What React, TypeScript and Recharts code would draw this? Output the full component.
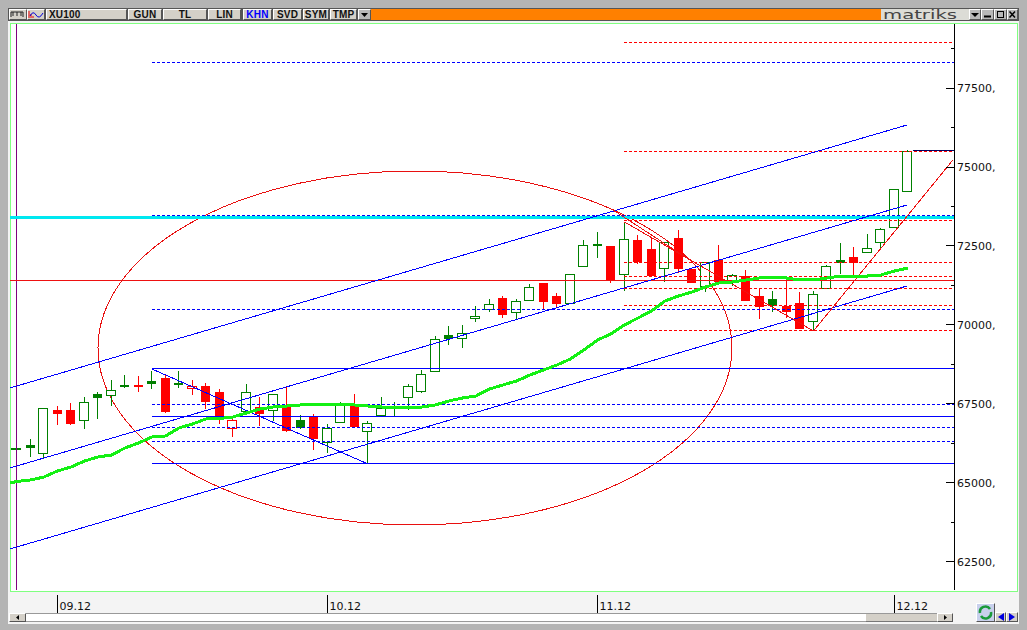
import React from 'react';
import { ComposedChart, Bar, Line, XAxis, YAxis, ReferenceLine, ReferenceArea } from 'recharts';

const opens = [66040,66202,65917,67310,67310,66961,67816,67753,68085,68101,68227,68322,68164,67974,68069,67880,66708,67246,67404,67278,67404,66993,67088,66265,66898,67499,66613,67120,67404,67689,67880,68512,69683,69557,70190,70475,70854,70379,70759,71329,70918,70664,71836,72565,72500,71582,72690,72405,71772,72753,71772,71202,72057,71329,71550,70918,70823,70601,70696,70095,71139,72057,72152,72278,72595,73070,74209];
const highs = [66135,66392,67373,67437,67531,67721,67880,68259,68417,68386,68544,68449,68544,68259,68164,67974,67088,68132,67721,67816,68038,67151,67183,66866,67563,67816,66961,67721,67563,68132,68575,69652,69968,70000,70601,70823,70918,70823,71297,71329,71012,71614,72690,72943,72500,73260,72848,72753,72627,73006,71772,71994,72532,71614,71740,71139,71076,71424,71044,71076,71899,72595,72468,72880,73070,74303,75538];
const lows = [66010,65822,65790,66835,66835,66708,67025,67436,68006,67880,67974,67215,68006,67785,67341,66866,66455,67215,66803,66961,66613,66708,66043,65948,66898,66771,65632,67120,67088,67310,67848,68512,69367,69272,70095,70411,70221,70158,70759,70506,70538,70664,71836,72120,71329,71076,71930,71550,71360,71646,71329,71044,71361,71234,70759,70190,70411,70221,69873,69810,71139,71614,71550,72278,72437,73070,74209];
const closes = [66105,66107,67373,67183,66866,67563,67689,67943,68053,68038,68132,67246,68101,68069,67563,67056,66993,67880,67183,67816,66645,66740,66392,66740,67499,66771,66898,67370,67375,68069,68449,69557,69560,69747,70285,70664,70316,70759,71202,70728,70664,71614,72532,72535,71392,72722,71994,71550,72627,71772,71329,71994,71361,71582,70759,70570,70601,70411,69873,70981,71867,71962,71955,72437,73038,74303,75507];
const movingAverage = [65047,65094,65189,65379,65505,65695,65822,65885,66107,66265,66455,66487,66740,66866,67025,67040,67088,67215,67341,67404,67436,67468,67468,67468,67468,67468,67436,67404,67373,67373,67404,67468,67595,67689,67753,67974,68101,68227,68417,68575,68734,68924,69208,69525,69715,70000,70221,70443,70759,70918,71044,71202,71329,71361,71424,71487,71519,71487,71424,71424,71487,71550,71550,71550,71582,71709,71804];
const movingAverageStart = 64999;

const dateTicks = [3, 23, 43, 65];
const dateLabels = ['09.12', '10.12', '11.12', '12.12'];
const priceTicks = [62500,63750,65000,66250,67500,68750,70000,71250,72500,73750,75000,76250,77500,78750];
const majorPrices = [62500,65000,67500,70000,72500,75000,77500];

const channelLines = [[-0.52,68006,65.93,76330],[-0.52,65474,65.93,73798],[-0.52,62910,65.93,71234]];
const blueZigzag = [10,68607,26,65600];
const redDiagonals = [[44.15,73640,49.85,72057],[45,73260,59,69810],[59,69810,69.33,75222]];
const blueSolidLevels = [68607,67088,65600];
const blueDashedLevels = [78308,73465,70475,67468,66756,66297];
const redDashedLevels = [78941,75475,73291,71962,71535,71139,70617,69810];
const cyanLevel = 73386;
const redLevel = 71392;
const closeLevel = 75507;
const ellipseBox = { x1: 6, x2: 52.96, top: 74873, bottom: 63670 };

const toolbarButtons = [
  { t: 'GUN', x: 128, w: 34 }, { t: 'TL', x: 163, w: 44 }, { t: 'LIN', x: 208, w: 33 },
  { t: 'KHN', x: 243, w: 29, c: '#0000ff' }, { t: 'SVD', x: 273, w: 29 }, { t: 'SYM', x: 303, w: 26 }, { t: 'TMP', x: 330, w: 27 },
];

const candles = opens.map((open, i) => ({ i, open, high: highs[i], low: lows[i], close: closes[i], prev: i ? closes[i - 1] : closes[i] }));
const maData = [{ i: -0.52, ma: movingAverageStart }, ...movingAverage.map((ma, i) => ({ i, ma }))];

const Candle = (p: any) => {
  const { x, y, width, height, payload: d } = p;
  const cx = Math.floor(x + width / 2);
  const k = height / (d.high - d.low);
  const yOf = (v: number) => y + (d.high - v) * k;
  const color = d.close >= d.prev ? '#008000' : '#ff0000';
  const filled = d.close < d.open;
  const top = Math.round(yOf(Math.max(d.open, d.close)));
  const bot = Math.round(yOf(Math.min(d.open, d.close)));
  return (
    <g shapeRendering="crispEdges">
      <line x1={cx + 0.5} x2={cx + 0.5} y1={y} y2={y + height} stroke={color} strokeWidth={1} />
      {filled
        ? <rect x={cx - 4} y={top} width={9} height={Math.max(bot - top, 2)} fill={color} />
        : <rect x={cx - 4.5} y={top + 0.5} width={9} height={Math.max(bot - top - 1, 1)} fill="#fff" stroke={color} strokeWidth={1} />}
    </g>
  );
};

const PriceTick = (p: any) => {
  const { y, payload } = p;
  const major = majorPrices.includes(payload.value);
  return (
    <g>
      <line x1={major ? 946 : 951} x2={954} y1={y} y2={y} stroke="#000" shapeRendering="crispEdges" />
      {major && <text x={957} y={y + 4} fontSize={11} fontFamily="DejaVu Sans" fill="#111">{payload.value + ','}</text>}
    </g>
  );
};

const DateTick = (p: any) => {
  const { x, payload } = p;
  return (
    <g>
      <line x1={x} x2={x} y1={595} y2={613} stroke="#000" shapeRendering="crispEdges" />
      <text x={x + 2} y={610} fontSize={11} fontFamily="DejaVu Sans" fill="#111">{dateLabels[dateTicks.indexOf(payload.value)]}</text>
    </g>
  );
};

const EllipseShape = (p: any) => (
  <ellipse cx={p.x + p.width / 2} cy={p.y + p.height / 2} rx={p.width / 2} ry={p.height / 2} fill="none" stroke="#e81010" strokeWidth={1} shapeRendering="crispEdges" />
);

const box = (x: number, y: number, w: number, h: number, extra: any = {}) => ({
  position: 'absolute' as const, left: x, top: y, width: w, height: h, boxSizing: 'border-box' as const, ...extra,
});
const bevel = { background: '#d4d0c8', borderTop: '1px solid #fff', borderLeft: '1px solid #fff', borderRight: '1px solid #555', borderBottom: '1px solid #555' };
const btnText = { fontFamily: 'Liberation Sans', fontWeight: 'bold' as const, fontSize: 10, letterSpacing: 0.2, lineHeight: '10px', textAlign: 'center' as const, color: '#111' };

const Seg = (s: number[], color: string) => (
  <ReferenceLine key={s.join('-')} segment={[{ x: s[0], y: s[1] }, { x: s[2], y: s[3] }]} stroke={color} strokeWidth={1} ifOverflow="visible" shapeRendering="crispEdges" />
);
const Level = (v: number, start: number, color: string, dash?: string, width = 1) => (
  <ReferenceLine key={color + v} segment={[{ x: start, y: v }, { x: 69.41, y: v }]} stroke={color} strokeWidth={width} strokeDasharray={dash} ifOverflow="visible" shapeRendering="crispEdges" />
);

export default function App() {
  return (
    <div style={box(0, 0, 1027, 630, { background: '#f4f4f4', overflow: 'hidden', position: 'fixed' })}>
      {/* window frame */}
      <div style={box(0, 0, 1027, 8, { background: '#b4b4b4' })} />
      <div style={box(0, 0, 8, 630, { background: '#b4b4b4' })} />
      <div style={box(1019, 0, 8, 630, { background: '#b4b4b4' })} />
      <div style={box(0, 624, 1027, 6, { background: '#b4b4b4' })} />
      <div style={box(8, 8, 1011, 13, { background: '#555' })} />
      <div style={box(10, 23, 1008, 569, { background: '#fff', border: '1px solid #80ff80' })} />

      {/* toolbar */}
      <div style={box(9, 9, 18, 11, bevel)}>
        <svg width={16} height={9} style={{ display: 'block' }}><path d="M1 7V2H13V7M3 2V6M7 2V6M11 2V6" stroke="#222" fill="none" /></svg>
      </div>
      <div style={box(27, 9, 18, 11, bevel)}>
        <svg width={16} height={9} style={{ display: 'block' }}><path d="M1 1V8M3 4V8M5 6V8" stroke="#e00" fill="none" /><path d="M2 6Q5 0 8 5T15 3" stroke="#00d" fill="none" /></svg>
      </div>
      <div style={box(46, 9, 81, 11, { ...bevel, ...btnText, textAlign: 'left', paddingLeft: 2 })}>XU100</div>
      {toolbarButtons.map((b) => (
        <div key={b.t} style={box(b.x, 9, b.w, 11, { ...bevel, ...btnText, color: b.c || '#111' })}>{b.t}</div>
      ))}
      <div style={box(358, 9, 13, 11, { ...bevel, background: '#b8b8b8' })}>
        <svg width={11} height={9} style={{ display: 'block' }}><path d="M2 3H9L5.5 7Z" fill="#000" /></svg>
      </div>
      <div style={box(371, 9, 510, 11, { background: '#ff8000' })} />
      <div style={box(881, 9, 88, 11, { background: '#dcdcd6' })} />
      <svg style={box(881, 8, 88, 14)} width={88} height={14}>
        <text x={2} y={11} fontFamily="DejaVu Sans" fontSize={12} fill="#444" textLength={74} lengthAdjust="spacingAndGlyphs">matriks</text>
      </svg>
      <div style={box(969, 9, 12, 11, { ...bevel, background: '#b8b8b8' })}><svg width={10} height={9} style={{ display: 'block' }}><path d="M1 3H9L5 7Z" fill="#000" /></svg></div>
      <div style={box(981, 9, 13, 11, { ...bevel, background: '#b8b8b8' })}><svg width={11} height={9} style={{ display: 'block' }}><path d="M2 6.5H9" stroke="#000" strokeWidth={2} /></svg></div>
      <div style={box(994, 9, 13, 11, { ...bevel, background: '#b8b8b8' })}><svg width={11} height={9} style={{ display: 'block' }}><rect x={2.5} y={1.5} width={6} height={6} fill="none" stroke="#000" /></svg></div>
      <div style={box(1007, 9, 11, 11, { ...bevel, background: '#b8b8b8' })}><svg width={9} height={9} style={{ display: 'block' }}><path d="M1.5 1.5L7 7.5M7 1.5L1.5 7.5" stroke="#000" strokeWidth={1.5} /></svg></div>

      {/* scrollbar and navigation */}
      <div style={box(9, 613, 944, 9, { background: '#fff', borderTop: '1px solid #999', borderBottom: '1px solid #999' })} />
      <div style={box(866, 613, 71, 9, { background: '#d4d0c8', borderTop: '1px solid #999', borderBottom: '1px solid #777' })} />
      <div style={box(9, 613, 17, 9, { ...bevel })}><svg width={15} height={7} style={{ display: 'block' }}><path d="M9 1V6L6 3.5Z" fill="#000" /></svg></div>
      <div style={box(937, 613, 16, 9, { ...bevel })}><svg width={14} height={7} style={{ display: 'block' }}><path d="M6 1V6L9 3.5Z" fill="#000" /></svg></div>
      <div style={box(976, 603, 19, 19, { ...bevel, background: '#c8d0ec' })}>
        <svg width={17} height={17} style={{ display: 'block' }}><path d="M3 9A5.5 5.5 0 0 1 13 5" stroke="#1a9a3a" strokeWidth={2.5} fill="none" /><path d="M14 8A5.5 5.5 0 0 1 4 12" stroke="#1a9a3a" strokeWidth={2.5} fill="none" /></svg>
      </div>
      <div style={box(995, 612, 11, 10, bevel)}><svg width={9} height={8} style={{ display: 'block' }}><path d="M8 0V8L2 4Z" fill="#0000e0" /></svg></div>
      <div style={box(1006, 612, 12, 10, bevel)}><svg width={10} height={8} style={{ display: 'block' }}><path d="M2 0V8L8 4Z" fill="#0000e0" /></svg></div>

      <div style={box(0, 0, 1027, 630, { overflow: 'visible' })}>
        <ComposedChart width={1027} height={630} data={candles} margin={{ top: 24, right: 0, bottom: 0, left: 10 }} style={{ background: 'transparent' }}>
          <XAxis dataKey="i" type="number" domain={[-0.5185, 69.41]} allowDataOverflow ticks={dateTicks} interval={0} axisLine={false} tickLine={false} tick={DateTick} height={40} />
          <YAxis orientation="right" type="number" domain={[61612, 79526]} allowDataOverflow ticks={priceTicks} interval={0} width={73} tickLine={false} axisLine={{ stroke: '#000', shapeRendering: 'crispEdges' }} tick={PriceTick} />
          <ReferenceLine x={0} stroke="#800080" strokeWidth={1} ifOverflow="visible" shapeRendering="crispEdges" />
          <Bar dataKey={(d: any) => [d.low, d.high]} barSize={10} shape={Candle} isAnimationActive={false} />
          <ReferenceArea x1={ellipseBox.x1} x2={ellipseBox.x2} y1={ellipseBox.bottom} y2={ellipseBox.top} shape={EllipseShape} ifOverflow="visible" />
          {Level(redLevel, -0.5185, '#ee1111')}
          {blueDashedLevels.map((v) => Level(v, 10, '#0000ff', '3 2'))}
          {blueSolidLevels.map((v) => Level(v, 10, '#0000ff'))}
          {redDashedLevels.map((v) => Level(v, 45, '#ff0000', '3 2'))}
          {Level(closeLevel, 66.4, '#000060')}
          {Level(cyanLevel, -0.5185, '#00e8f0', undefined, 3)}
          {channelLines.map((s) => Seg(s, '#0000ff'))}
          {Seg(blueZigzag, '#0000ff')}
          {redDiagonals.map((s) => Seg(s, '#ee1111'))}
          <Line data={maData} dataKey="ma" type="linear" stroke="#14f014" strokeWidth={3} dot={false} isAnimationActive={false} legendType="none" shapeRendering="crispEdges" />
        </ComposedChart>
      </div>
    </div>
  );
}
